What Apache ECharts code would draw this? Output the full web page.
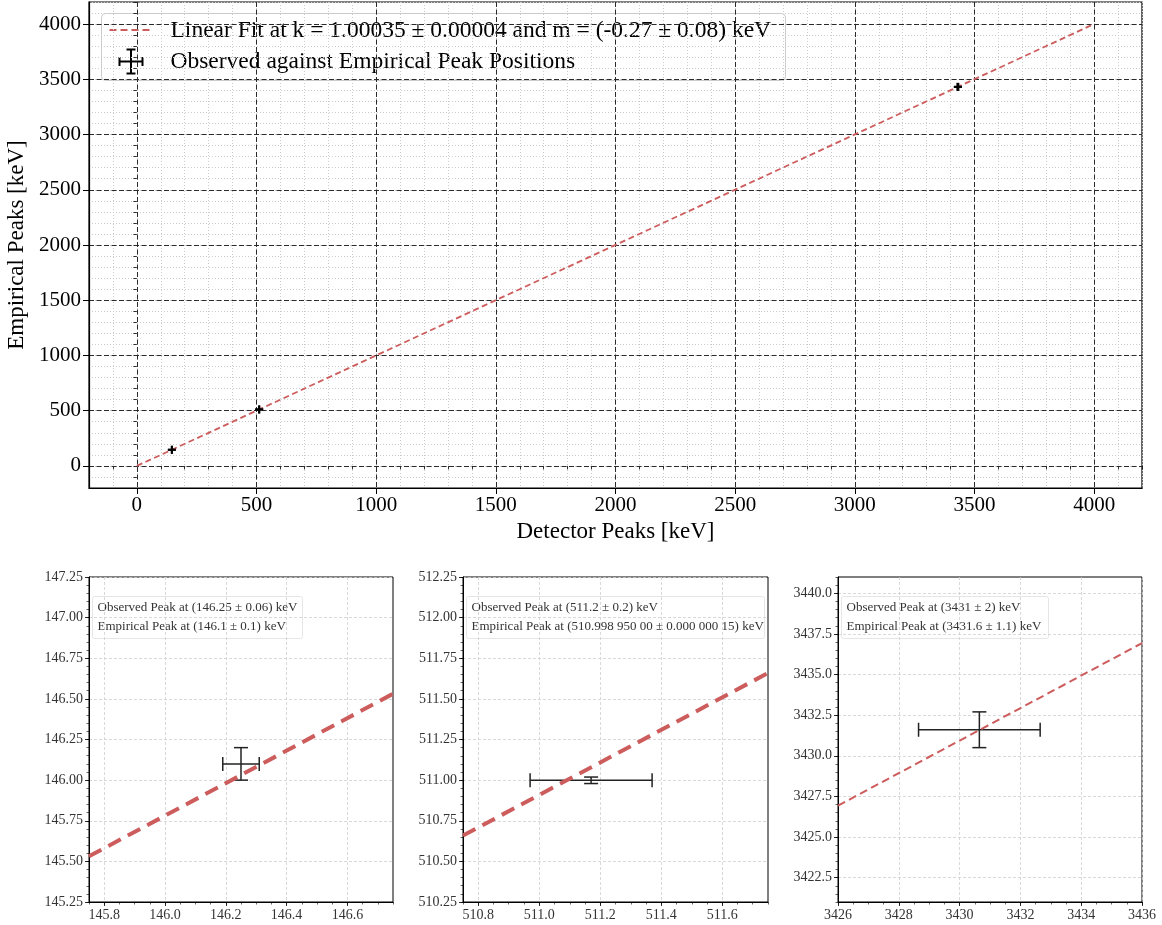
<!DOCTYPE html>
<html>
<head>
<meta charset="utf-8">
<script src="https://cdn.jsdelivr.net/npm/echarts@6/dist/echarts.min.js"></script>
<style>
  html, body { margin: 0; padding: 0; background: #fff; }
  #chart { width: 1162px; height: 925px; }
</style>
</head>
<body>
<div id="chart"></div>
<script>
// Calibration peaks: observed detector position vs. empirical (reference) energy, keV
const observedPeaks   = [146.25, 511.17, 3430.65];
const observedErrors  = [0.06, 0.2, 2.0];
const empiricalPeaks  = [146.1, 510.99895, 3431.6];
const empiricalErrors = [0.1, 0.02, 1.1];

// Linear fit y = k * x + m
const fitK = 1.00035;
const fitM = -0.27;
const fitSpan = [0, 4000];

// Overview axes
const overviewRange = [-200, 4200];
const overviewTicks = [0, 500, 1000, 1500, 2000, 2500, 3000, 3500, 4000];
const overviewMinorStep = 100;

// Close-up windows around each peak: [xMin, xMax, yMin, yMax]
const zoomWindows = [
  [145.75, 146.75, 145.25, 147.25],
  [510.75, 511.75, 510.25, 512.25],
  [3426, 3436, 3421, 3441]
];
const zoomXTicks = [
  [145.8, 146.0, 146.2, 146.4, 146.6],
  [510.8, 511.0, 511.2, 511.4, 511.6],
  [3426, 3428, 3430, 3432, 3434, 3436]
];
const zoomYTicks = [
  [145.25, 145.5, 145.75, 146.0, 146.25, 146.5, 146.75, 147.0, 147.25],
  [510.25, 510.5, 510.75, 511.0, 511.25, 511.5, 511.75, 512.0, 512.25],
  [3422.5, 3425.0, 3427.5, 3430.0, 3432.5, 3435.0, 3437.5, 3440.0]
];
const zoomXDecimals = [1, 1, 0];
const zoomYDecimals = [2, 2, 1];
const zoomMinorStep = [0.05, 0.05, 0.5];
const zoomYMinorStep = [0.05, 0.05, 0.5];
const zoomNotes = [
  ['Observed Peak at (146.25 ± 0.06) keV', 'Empirical Peak at (146.1 ± 0.1) keV'],
  ['Observed Peak at (511.2 ± 0.2) keV', 'Empirical Peak at (510.998 950 00 ± 0.000 000 15) keV'],
  ['Observed Peak at (3431 ± 2) keV', 'Empirical Peak at (3431.6 ± 1.1) keV']
];

const legendLabels = [
  'Linear Fit at k = 1.00035 ± 0.00004 and m = (-0.27 ± 0.08) keV',
  'Observed against Empirical Peak Positions'
];

const SERIF = '"Liberation Serif", "DejaVu Serif", serif';
const FIT_COLOR = '#cd5c5c';

// Layout of the four plotting areas (px)
const gridBoxes = [
  { left: 89,  top: 2,   width: 1053, height: 486 },
  { left: 89,  top: 577, width: 304,  height: 325 },
  { left: 463, top: 577, width: 305,  height: 325 },
  { left: 838, top: 577, width: 304,  height: 325 }
];

function fitPoints(x0, x1) {
  return [[x0, fitK * x0 + fitM], [x1, fitK * x1 + fitM]];
}

function errorRows(indices) {
  return indices.map(i => [observedPeaks[i], empiricalPeaks[i], observedErrors[i], empiricalErrors[i]]);
}

function errorBarRenderer(cap, width, color) {
  return function (params, api) {
    const x = api.value(0), y = api.value(1), xe = api.value(2), ye = api.value(3);
    const l = api.coord([x - xe, y]), r = api.coord([x + xe, y]);
    const b = api.coord([x, y - ye]), t = api.coord([x, y + ye]);
    const seg = (x1, y1, x2, y2) => ({
      type: 'line',
      shape: { x1, y1, x2, y2 },
      style: { stroke: color, lineWidth: width, fill: null }
    });
    return {
      type: 'group',
      children: [
        seg(l[0], l[1], r[0], r[1]),
        seg(b[0], b[1], t[0], t[1]),
        seg(l[0], l[1] - cap, l[0], l[1] + cap),
        seg(r[0], r[1] - cap, r[0], r[1] + cap),
        seg(b[0] - cap, b[1], b[0] + cap, b[1]),
        seg(t[0] - cap, t[1], t[0] + cap, t[1])
      ]
    };
  };
}

const xAxes = [], yAxes = [], series = [], graphics = [];

// ---- Overview panel: major axes (labels, dashed grid) + minor axes (dotted grid) ----
const majorGrid = { show: true, lineStyle: { color: '#2a2a2a', width: 1, type: [5, 2.5] } };
const minorGrid = { show: true, lineStyle: { color: '#cccccc', width: 1, type: [1, 2] } };

xAxes.push({
  gridIndex: 0, type: 'value', position: 'bottom', z: 2,
  min: overviewRange[0], max: overviewRange[1],
  name: 'Detector Peaks [keV]', nameLocation: 'middle', nameGap: 32,
  nameTextStyle: { fontFamily: SERIF, fontSize: 23, color: '#000' },
  axisLine: { show: true, onZero: false, lineStyle: { color: '#000', width: 1.2 } },
  axisTick: { show: true, length: 6, customValues: overviewTicks, lineStyle: { color: '#000', width: 1 } },
  axisLabel: { show: true, customValues: overviewTicks, margin: 7, fontFamily: SERIF, fontSize: 21, color: '#000',
               formatter: v => String(v) },
  splitLine: majorGrid
});
xAxes.push({
  gridIndex: 0, type: 'value', position: 'bottom', z: 0,
  min: overviewRange[0], max: overviewRange[1], interval: overviewMinorStep,
  axisLine: { show: false },
  axisTick: { show: true, length: 3.5, lineStyle: { color: '#000', width: 0.8 } },
  axisLabel: { show: false },
  splitLine: minorGrid
});
yAxes.push({
  gridIndex: 0, type: 'value', position: 'left', z: 2,
  min: overviewRange[0], max: overviewRange[1],
  name: 'Empirical Peaks [keV]', nameLocation: 'middle', nameGap: 55,
  nameTextStyle: { fontFamily: SERIF, fontSize: 23, color: '#000' },
  axisLine: { show: true, onZero: false, lineStyle: { color: '#000', width: 1.2 } },
  axisTick: { show: true, length: 6, customValues: overviewTicks, lineStyle: { color: '#000', width: 1 } },
  axisLabel: { show: true, customValues: overviewTicks, margin: 8, fontFamily: SERIF, fontSize: 21, color: '#000',
               formatter: v => String(v) },
  splitLine: majorGrid
});
yAxes.push({
  gridIndex: 0, type: 'value', position: 'left', z: 0,
  min: overviewRange[0], max: overviewRange[1], interval: overviewMinorStep,
  axisLine: { show: false },
  axisTick: { show: true, length: 3.5, lineStyle: { color: '#000', width: 0.8 } },
  axisLabel: { show: false },
  splitLine: minorGrid
});
series.push({
  type: 'custom', xAxisIndex: 0, yAxisIndex: 0, z: 3,
  data: errorRows([0, 1, 2]), encode: { x: 0, y: 1 },
  renderItem: errorBarRenderer(4, 2, '#000')
});
series.push({
  type: 'line', xAxisIndex: 0, yAxisIndex: 0, z: 2,
  data: fitPoints(fitSpan[0], fitSpan[1]), showSymbol: false, symbol: 'none',
  lineStyle: { color: FIT_COLOR, width: 1.8, type: [6, 3.5] }
});

// ---- Close-up panels ----
zoomWindows.forEach((w, i) => {
  const g = i + 1;
  const xd = zoomXDecimals[i], yd = zoomYDecimals[i];
  xAxes.push({
    gridIndex: g, type: 'value', position: 'bottom', min: w[0], max: w[1],
    axisLine: { show: true, onZero: false, lineStyle: { color: '#000', width: 1 } },
    axisTick: { show: true, length: 4, customValues: zoomXTicks[i], lineStyle: { color: '#000', width: 0.8 } },
    axisLabel: {
      show: true, customValues: zoomXTicks[i], margin: 6,
      fontFamily: SERIF, fontSize: 14, color: '#333',
      formatter: v => Number(v).toFixed(xd)
    },
    splitLine: { show: true, lineStyle: { color: '#cfcfcf', width: 0.8, type: [3, 2] } }
  });
  xAxes.push({
    gridIndex: g, type: 'value', position: 'bottom', min: w[0], max: w[1], interval: zoomMinorStep[i],
    axisLine: { show: false },
    axisTick: { show: true, length: 2.5, lineStyle: { color: '#000', width: 0.6 } },
    axisLabel: { show: false }, splitLine: { show: false }
  });
  yAxes.push({
    gridIndex: g, type: 'value', position: 'left', min: w[2], max: w[3],
    axisLine: { show: true, onZero: false, lineStyle: { color: '#000', width: 1 } },
    axisTick: { show: true, length: 4, customValues: zoomYTicks[i], lineStyle: { color: '#000', width: 0.8 } },
    axisLabel: {
      show: true, customValues: zoomYTicks[i], margin: 6,
      fontFamily: SERIF, fontSize: 14, color: '#333',
      formatter: v => Number(v).toFixed(yd)
    },
    splitLine: { show: true, lineStyle: { color: '#cfcfcf', width: 0.8, type: [3, 2] } }
  });
  yAxes.push({
    gridIndex: g, type: 'value', position: 'left', min: w[2], max: w[3], interval: zoomYMinorStep[i],
    axisLine: { show: false },
    axisTick: { show: true, length: 2.5, lineStyle: { color: '#000', width: 0.6 } },
    axisLabel: { show: false }, splitLine: { show: false }
  });
  series.push({
    type: 'custom', xAxisIndex: 2 * g, yAxisIndex: 2 * g, z: 2,
    data: errorRows([i]), encode: { x: 0, y: 1 },
    renderItem: errorBarRenderer(7, 1.5, '#222')
  });
  const thick = i < 2;
  series.push({
    type: 'line', xAxisIndex: 2 * g, yAxisIndex: 2 * g, z: 3,
    data: fitPoints(w[0], w[1]), showSymbol: false, symbol: 'none',
    lineStyle: { color: FIT_COLOR, width: thick ? 4 : 2, type: thick ? [14, 8] : [8, 4.5] }
  });

  // Annotation box with the peak values
  const box = gridBoxes[g];
  const noteWidths = [210, 298, 207];
  graphics.push({
    type: 'group', left: box.left + 3, top: 596, z: 100,
    children: [
      { type: 'rect', shape: { x: 0, y: 0, width: noteWidths[i], height: 42, r: 2 },
        style: { fill: 'rgba(255,255,255,0.8)', stroke: '#e6e6e6', lineWidth: 1 } },
      { type: 'text', x: 5, y: 11,
        style: { text: zoomNotes[i][0], fontFamily: SERIF, fontSize: 13, fill: '#333', verticalAlign: 'middle' } },
      { type: 'text', x: 5, y: 30,
        style: { text: zoomNotes[i][1], fontFamily: SERIF, fontSize: 13, fill: '#333', verticalAlign: 'middle' } }
    ]
  });
});

// ---- Legend of the overview panel ----
const iconStyle = { stroke: '#000', lineWidth: 2 };
graphics.push({
  type: 'group', left: 101, top: 13, z: 100,
  children: [
    { type: 'rect', shape: { x: 0, y: 0, width: 684, height: 67, r: 4 },
      style: { fill: 'rgba(255,255,255,0.8)', stroke: '#cccccc', lineWidth: 1 } },
    { type: 'line', shape: { x1: 8, y1: 16.5, x2: 50, y2: 16.5 },
      style: { stroke: FIT_COLOR, lineWidth: 2, lineDash: [7, 4] } },
    { type: 'line', shape: { x1: 18, y1: 48, x2: 41, y2: 48 }, style: iconStyle },
    { type: 'line', shape: { x1: 29.5, y1: 36, x2: 29.5, y2: 60 }, style: iconStyle },
    { type: 'line', shape: { x1: 18, y1: 43.5, x2: 18, y2: 52.5 }, style: iconStyle },
    { type: 'line', shape: { x1: 41, y1: 43.5, x2: 41, y2: 52.5 }, style: iconStyle },
    { type: 'line', shape: { x1: 25, y1: 36, x2: 34, y2: 36 }, style: iconStyle },
    { type: 'line', shape: { x1: 25, y1: 60, x2: 34, y2: 60 }, style: iconStyle },
    { type: 'text', x: 69, y: 17.5,
      style: { text: legendLabels[0], fontFamily: SERIF, fontSize: 23.5, fill: '#000', verticalAlign: 'middle' } },
    { type: 'text', x: 69, y: 48.5,
      style: { text: legendLabels[1], fontFamily: SERIF, fontSize: 23.5, fill: '#000', verticalAlign: 'middle' } }
  ]
});

const chart = echarts.init(document.getElementById('chart'), null, { renderer: 'canvas' });
chart.setOption({
  animation: false,
  backgroundColor: '#fff',
  grid: gridBoxes.map((b, i) => Object.assign({
    show: true, backgroundColor: 'transparent',
    borderColor: '#000', borderWidth: i === 0 ? 1.2 : 1,
    containLabel: false, outerBoundsMode: 'none'
  }, b)),
  xAxis: xAxes,
  yAxis: yAxes,
  series: series,
  graphic: graphics
});
</script>
</body>
</html>
